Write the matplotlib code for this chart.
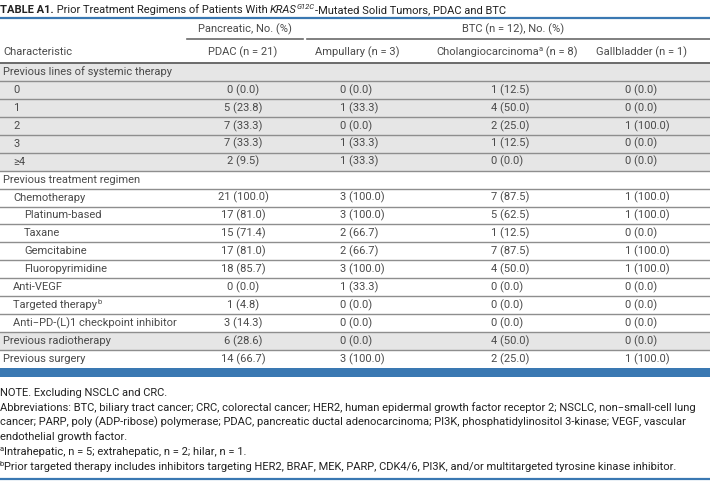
import matplotlib
matplotlib.use("Agg")
from matplotlib import pyplot as plt

# table content
row_labels = ["Previous lines of systemic therapy", "0", "1", "2", "3", "\u22654",
              "Previous treatment regimen", "Chemotherapy", "Platinum-based", "Taxane",
              "Gemcitabine", "Fluoropyrimidine", "Anti-VEGF", "Targeted therapy",
              "Anti\u2212PD-(L)1 checkpoint inhibitor", "Previous radiotherapy", "Previous surgery"]
row_sup = ["", "", "", "", "", "", "", "", "", "", "", "", "", "b", "", "", ""]
row_level = [0, 1, 1, 1, 1, 1, 0, 1, 2, 2, 2, 2, 1, 1, 1, 0, 0]
shaded_rows = [0, 1, 2, 3, 4, 5, 15]

pdac_n = [None, 0, 5, 7, 7, 2, None, 21, 17, 15, 17, 18, 0, 1, 3, 6, 14]
pdac_pct = [None, 0.0, 23.8, 33.3, 33.3, 9.5, None, 100.0, 81.0, 71.4, 81.0, 85.7, 0.0, 4.8, 14.3, 28.6, 66.7]
amp_n = [None, 0, 1, 0, 1, 1, None, 3, 3, 2, 2, 3, 1, 0, 0, 0, 3]
amp_pct = [None, 0.0, 33.3, 0.0, 33.3, 33.3, None, 100.0, 100.0, 66.7, 66.7, 100.0, 33.3, 0.0, 0.0, 0.0, 100.0]
chol_n = [None, 1, 4, 2, 1, 0, None, 7, 5, 1, 7, 4, 0, 0, 0, 4, 2]
chol_pct = [None, 12.5, 50.0, 25.0, 12.5, 0.0, None, 87.5, 62.5, 12.5, 87.5, 50.0, 0.0, 0.0, 0.0, 50.0, 25.0]
gb_n = [None, 0, 0, 1, 0, 0, None, 1, 1, 0, 1, 1, 0, 0, 0, 0, 1]
gb_pct = [None, 0.0, 0.0, 100.0, 0.0, 0.0, None, 100.0, 100.0, 0.0, 100.0, 100.0, 0.0, 0.0, 0.0, 0.0, 100.0]

footnotes = [
    ("", "NOTE. Excluding NSCLC and CRC."),
    ("", "Abbreviations: BTC, biliary tract cancer; CRC, colorectal cancer; HER2, human epidermal growth factor receptor 2; NSCLC, non\u2212small-cell lung"),
    ("", "cancer; PARP, poly (ADP-ribose) polymerase; PDAC, pancreatic ductal adenocarcinoma; PI3K, phosphatidylinositol 3-kinase; VEGF, vascular"),
    ("", "endothelial growth factor."),
    ("a", "Intrahepatic, n = 5; extrahepatic, n = 2; hilar, n = 1."),
    ("b", "Prior targeted therapy includes inhibitors targeting HER2, BRAF, MEK, PARP, CDK4/6, PI3K, and/or multitargeted tyrosine kinase inhibitor."),
]

blue = "#3a78b2"
txt = "#4a4a4a"
fam = ["Roboto", "DejaVu Sans"]
fs = 8

fig = plt.figure(figsize=(7.1, 4.83), dpi=100)
ax = fig.add_axes([0, 0, 1, 1])
ax.set_xlim(0, 710)
ax.set_ylim(483, 0)
ax.axis("off")
renderer = fig.canvas.get_renderer()


def runs(x, y, pieces, center=False, **kw):
    # draw text pieces one after another: (text, size, dy, style, weight)
    objs = []
    x0 = x
    for s, size, dy, style, weight in pieces:
        t = ax.text(x, y + dy, s, fontsize=size, fontstyle=style, fontweight=weight,
                    family=fam, va="center", ha="left", **kw)
        objs.append(t)
        x += t.get_window_extent(renderer).width
    if center:
        shift = (x - x0) / 2
        for t in objs:
            t.set_x(t.get_position()[0] - shift)
    return x


# title
runs(0, 10, [("TABLE A1.", fs, 0, "normal", "bold"),
             (" Prior Treatment Regimens of Patients With ", fs, 0, "normal", "normal"),
             ("KRAS", fs, 0, "italic", "normal"),
             ("G12C", 5.5, -3, "italic", "normal"),
             ("-Mutated Solid Tumors, PDAC and BTC", fs, 0, "normal", "normal")],
     color="#222222")

ax.plot([0, 710], [18, 18], color=blue, lw=1.6, solid_capstyle="butt")

# column headers
hkw = dict(fontsize=fs, family=fam, va="center", color=txt)
ax.text(245, 29, "Pancreatic, No. (%)", ha="center", **hkw)
ax.text(513, 29, "BTC (n = 12), No. (%)", ha="center", **hkw)
ax.plot([187, 303], [39, 39], color="#6a6a6a", lw=1.2)
ax.plot([307, 710], [39, 39], color="#6a6a6a", lw=1.2)

ax.text(3, 52, "Characteristic", ha="left", **hkw)
ax.text(243, 52, "PDAC (n = 21)", ha="center", **hkw)
ax.text(357, 52, "Ampullary (n = 3)", ha="center", **hkw)
runs(507, 52, [("Cholangiocarcinoma", fs, 0, "normal", "normal"),
               ("a", 5.5, -3, "normal", "normal"),
               (" (n = 8)", fs, 0, "normal", "normal")], center=True, color=txt)
ax.text(642, 52, "Gallbladder (n = 1)", ha="center", **hkw)

top = 63
bottom = 368
nrows = len(row_labels)
h = (bottom - top) / nrows

for i in shaded_rows:
    ax.axhspan(top + i * h, top + (i + 1) * h, color="#e6e6e6", lw=0)
for i in range(1, nrows):
    ax.plot([0, 710], [top + i * h, top + i * h], color="#8e8e8e", lw=1)
ax.plot([0, 710], [top, top], color="#6a6a6a", lw=1.4)

indent = [3, 13, 24]
pdac_center = 243
col_left = [340, 491, 625]
cols = [(amp_n, amp_pct), (chol_n, chol_pct), (gb_n, gb_pct)]

for i, lab in enumerate(row_labels):
    yc = top + (i + 0.5) * h
    pieces = [(lab, fs, 0, "normal", "normal")]
    if row_sup[i]:
        pieces.append((row_sup[i], 5.5, -3, "normal", "normal"))
    runs(indent[row_level[i]], yc, pieces, color=txt)
    if pdac_n[i] is None:
        continue
    ax.text(pdac_center, yc, f"{pdac_n[i]} ({pdac_pct[i]:.1f})", ha="center", **hkw)
    for (ns, ps), x0 in zip(cols, col_left):
        ax.text(x0, yc, f"{ns[i]} ({ps[i]:.1f})", ha="left", **hkw)

ax.axhspan(368, 376.5, color=blue, lw=0)

# footnotes
fy = 392.5
for sup, line in footnotes:
    pieces = []
    if sup:
        pieces.append((sup, 5.5, -3, "normal", "normal"))
    pieces.append((line, fs, 0, "normal", "normal"))
    runs(0, fy, pieces, color="#222222")
    fy += 14.8

ax.plot([0, 710], [479, 479], color=blue, lw=1.6, solid_capstyle="butt")

fig.savefig("out.png", dpi=100)
